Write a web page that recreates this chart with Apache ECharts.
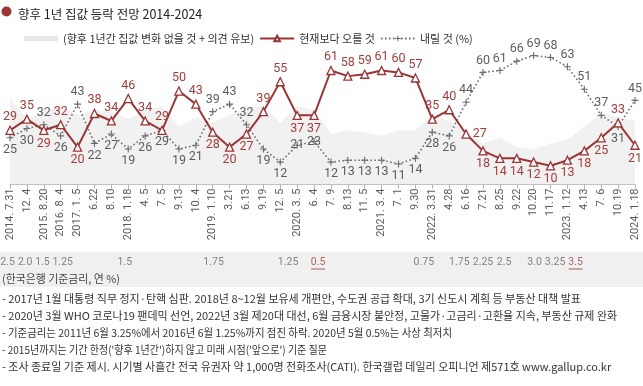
<!DOCTYPE html>
<html><head><meta charset="utf-8">
<script src="https://cdn.jsdelivr.net/npm/echarts@6/dist/echarts.min.js"></script>
<style>html,body{margin:0;padding:0;background:#fff}#c{width:643px;height:386px}</style>
</head><body><div id="c"></div>
<script>
// ---------- data ----------
const categories = ['2014. 7.31','12. 4','2015. 8.20','2016. 8. 4','2017. 1. 5','6.22','8.10','2018. 1.18','4. 5','7. 5','9.13','10. 4','2019. 1.10','3.21','6.13','9.19','12. 5','2020. 3. 5','6. 4','7. 9','8.13','11. 5','2021. 3. 4','7. 1','9.30','2022. 3.31','4.28','6.16','7.21','8.25','9.22','10.20','11.17','2023. 1.12','4.13','7. 6','10.19','2024. 1.18'];
const riseValues = [29,35,29,32,20,38,34,46,34,29,50,43,28,20,27,39,55,37,37,61,58,59,61,60,57,35,40,27,18,14,14,12,10,13,18,25,33,21];
const fallValues = [25,30,32,26,43,22,27,19,26,29,19,21,39,43,32,19,12,21,23,12,13,13,13,11,14,28,26,44,60,61,66,69,68,63,51,37,31,45];
const neutralValues = [46,35,39,42,37,40,39,35,40,42,31,36,33,37,41,42,33,42,40,27,29,28,26,29,29,37,34,29,22,25,20,19,22,24,31,38,36,34];
const rateLabels = ['2.5','2.0','1.5','1.25','1.5','1.75','1.25','0.5','0.75','1.75','2.25','2.5','3.0','3.25','3.5'];
// where each rate label sits, in units of the category index (time position)
const rateAt = [-0.14,0.9,1.92,3.12,6.8,12.05,16.46,18.24,24.5,26.6,28.0,29.25,31.05,32.27,33.48];
const rateRecord = [false,false,false,false,false,false,false,true,false,false,false,false,false,false,true];
const seriesNames = ['(향후 1년간 집값 변화 없을 것 + 의견 유보)','현재보다 오를 것','내릴 것 (%)'];
const titleText = '향후 1년 집값 등락 전망 2014-2024';
const rateCaption = '(한국은행 기준금리, 연 %)';
const notes = [
 '- 2017년 1월 대통령 직무 정지·탄핵 심판. 2018년 8~12월 보유세 개편안, 수도권 공급 확대, 3기 신도시 계획 등 부동산 대책 발표',
 '- 2020년 3월 WHO 코로나19 팬데믹 선언, 2022년 3월 제20대 대선, 6월 금융시장 불안정, 고물가·고금리·고환율 지속, 부동산 규제 완화',
 '- 기준금리는 2011년 6월 3.25%에서 2016년 6월 1.25%까지 점진 하락. 2020년 5월 0.5%는 사상 최저치',
 '- 2015년까지는 기간 한정(\'향후 1년간\')하지 않고 미래 시점(\'앞으로\') 기준 질문',
 '- 조사 종료일 기준 제시. 시기별 사흘간 전국 유권자 약 1,000명 전화조사(CATI). 한국갤럽 데일리 오피니언 제571호 www.gallup.co.kr'
];

// ---------- styling / layout ----------
const riseLabelSide = ['t','t','b','t','b','t','t','t','t','t','t','t','b','b','b','t','t','b','b','t','t','t','t','t','t','t','t','r','b','b','b','b','b','b','b','b','t','b'];
const fallLabelSide = ['b','b','t','b','t','b','b','b','b','b','b','b','t','t','t','b','b','i','i','b','b','b','b','b','b','b','b','t','t','t','t','t','t','t','t','t','b','t'];
const sideMap = {t:'top', b:'bottom', i:'inside', r:'right'};
const noteWidths = [621, 634, 450, 325, 636];   // rendered line lengths in the reference (px)
const captionWidth = 118;
const RED = '#9b3535', RED_TXT = '#a53d3d', GRAY = '#6e6e6e', GRAY_TXT = '#5e5e5e', AREA = '#f1f1f1';
const numFont = "'Roboto','Liberation Sans',sans-serif";
const krFont = "'Noto Sans CJK KR','Noto Sans',sans-serif";
const plusPath = 'path://M4.2,0H5.8V4.2H10V5.8H5.8V10H4.2V5.8H0V4.2H4.2Z';

const chart = echarts.init(document.getElementById('c'));

// notes: condensed text fitted to the reference line lengths
const ctx = document.createElement('canvas').getContext('2d');
const noteFont = '11px ' + krFont;
ctx.font = noteFont;
const fit = (t, w) => Math.min(1, w / ctx.measureText(t).width);

const gridLeft = 10, gridRight = 8;
const option = {
  animation: false,
  title: {text: titleText, left: 13, top: 3, textStyle: {fontSize: 12.5, fontWeight: 'normal', color: '#222', fontFamily: krFont}},
  legend: {
    left: 19, top: 28, itemWidth: 34, itemHeight: 7, itemGap: 5,
    textStyle: {fontSize: 11, color: '#333', fontFamily: krFont},
    data: [{name: seriesNames[0], icon: 'path://M0,0H34V5H0Z'}, {name: seriesNames[1]}, {name: seriesNames[2]}]
  },
  grid: [
    {left: gridLeft, right: gridRight, top: 53.7, bottom: 201.5},
    {left: gridLeft, right: gridRight, top: 252, height: 20}
  ],
  xAxis: [
    {type: 'category', data: categories, boundaryGap: false, gridIndex: 0,
     axisLine: {lineStyle: {color: '#b0b0b0', width: 1}},
     axisTick: {length: 4, lineStyle: {color: '#b0b0b0'}},
     axisLabel: {interval: 0, rotate: 90, margin: 4, fontSize: 11, color: '#5a5a5a', fontFamily: numFont}},
    {type: 'value', gridIndex: 1, min: 0, max: categories.length - 1, show: false}
  ],
  yAxis: [
    {type: 'value', min: 0, max: 70, show: false, gridIndex: 0},
    {type: 'value', min: 0, max: 1, show: false, gridIndex: 1}
  ],
  graphic: [
    {type: 'circle', shape: {cx: 6.5, cy: 11.5, r: 5}, style: {fill: '#9b3535'}},
    {type: 'rect', shape: {x: 0, y: 252, width: 643, height: 35}, style: {fill: '#f0f0f0'}, z: -10},
    {type: 'text', x: 2, y: 279, scaleX: fit(rateCaption, captionWidth),
     style: {text: rateCaption, font: noteFont, fill: '#444', verticalAlign: 'middle'}},
    ...notes.map((t, i) => ({type: 'text', x: 2, y: 299 + i * 17, scaleX: fit(t, noteWidths[i]),
      style: {text: t, font: noteFont, fill: '#333', verticalAlign: 'middle'}}))
  ],
  series: [
    {name: seriesNames[0], type: 'line', data: neutralValues, symbol: 'none', z: 1,
     lineStyle: {width: 0}, areaStyle: {color: AREA, opacity: 1}, itemStyle: {color: '#e8e8e8'}, silent: true},
    {name: seriesNames[1], type: 'line', data: riseValues.map((v, i) => ({value: v, label: {position: sideMap[riseLabelSide[i]]}})),
     z: 4, symbol: 'triangle', symbolSize: 8,
     lineStyle: {color: RED, width: 2}, itemStyle: {color: '#fff', borderColor: RED, borderWidth: 1.3},
     label: {show: true, distance: 2, fontSize: 12.5, color: RED_TXT, fontFamily: numFont}},
    {name: seriesNames[2], type: 'line', data: fallValues.map((v, i) => ({value: v, label: {position: sideMap[fallLabelSide[i]]}})),
     z: 3, symbol: plusPath, symbolSize: 7,
     lineStyle: {color: GRAY, width: 1.6, type: [1.6, 2.4]}, itemStyle: {color: GRAY},
     label: {show: true, distance: 2, fontSize: 12.5, color: GRAY_TXT, fontFamily: numFont}},
    {name: 'rate', type: 'scatter', xAxisIndex: 1, yAxisIndex: 1, z: 5, silent: true, clip: false,
     data: rateAt.map((x, i) => ({
       value: [x, 0.5],
       symbol: 'rect', symbolSize: rateRecord[i] ? [14, 1] : 0, symbolOffset: [0, 7],
       itemStyle: {color: RED},
       label: {show: true, position: 'inside', offset: [0, -7], formatter: rateLabels[i], fontSize: 10.5, fontFamily: numFont,
               color: rateRecord[i] ? RED_TXT : '#666'}
     }))}
  ]
};
chart.setOption(option);
</script></body></html>
